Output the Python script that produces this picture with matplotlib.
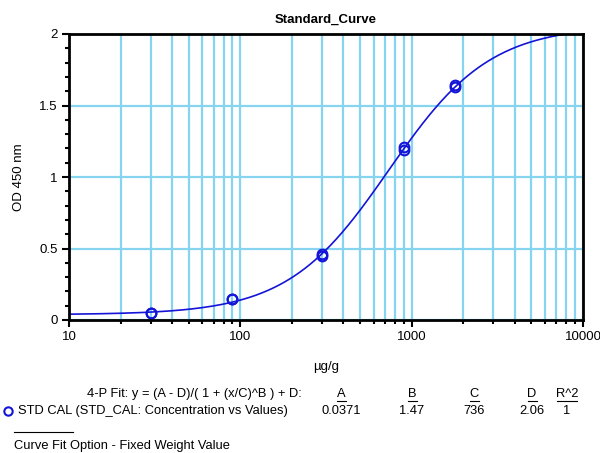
import numpy as np
import matplotlib
matplotlib.use("Agg")
import matplotlib.pyplot as plt
from matplotlib.lines import Line2D
from matplotlib.ticker import LogLocator, MultipleLocator, FixedLocator

plt.rcParams['font.family'] = ['Liberation Sans', 'DejaVu Sans']

# Data
conc = [30, 30, 90, 90, 300, 300, 900, 900, 1800, 1800]
od = [0.050, 0.052, 0.148, 0.150, 0.450, 0.462, 1.190, 1.210, 1.630, 1.640]
# 4-P fit parameters shown in the legend
fit_A, fit_B, fit_C, fit_D, fit_R2 = 0.0371, 1.47, 736, 2.06, 1
param_labels = ['A', 'B', 'C', 'D', 'R^2']
param_values = ['0.0371', '1.47', '736', '2.06', '1']

W, H = 600, 453
fig = plt.figure(figsize=(6, 4.53), dpi=100)
L, R, T, B = 69, 583, 34, 320
ax = fig.add_axes([L / W, 1 - B / H, (R - L) / W, (B - T) / H])

ax.set_xscale('log')
ax.set_xlim(10, 10000)
ax.set_ylim(0, 2)

grid_c = '#86d4f0'
ax.xaxis.set_major_locator(FixedLocator([10, 100, 1000, 10000]))
ax.xaxis.set_minor_locator(LogLocator(base=10, subs=np.arange(2, 10)))
ax.xaxis.set_minor_formatter(matplotlib.ticker.NullFormatter())
ax.xaxis.set_major_formatter(matplotlib.ticker.FuncFormatter(lambda v, p: f"{int(v)}"))
ax.yaxis.set_major_locator(FixedLocator([0, 0.5, 1, 1.5, 2]))
ax.yaxis.set_major_formatter(matplotlib.ticker.FuncFormatter(lambda v, p: f"{v:g}"))
ax.yaxis.set_minor_locator(MultipleLocator(0.1))

ax.grid(True, which='both', axis='x', color=grid_c, lw=1.6)
ax.grid(True, which='major', axis='y', color=grid_c, lw=1.6)
ax.set_axisbelow(True)

for s in ax.spines.values():
    s.set_linewidth(2)
    s.set_color('black')
    s.set_zorder(5)

ax.tick_params(which='major', direction='out', length=5, width=1.5, labelsize=9.5, pad=3, color='black')
ax.tick_params(which='minor', direction='out', length=3, width=1.5, color='black')

# Fitted curve
xs = np.logspace(1, 4, 600)
ys = (fit_A - fit_D) / (1 + (xs / fit_C) ** fit_B) + fit_D
ax.plot(xs, ys, color='#1414d8', lw=1.2, zorder=3, clip_on=True)

ax.plot(conc, od, linestyle='none', marker='o', ms=7, mfc='none', mec='#1414d8', mew=1.5, zorder=4)

ax.set_title('Standard_Curve', fontsize=9.5, fontweight='bold', pad=8)
ax.set_xlabel('µg/g', fontsize=9.5, labelpad=13)
ax.set_ylabel('OD 450 nm', fontsize=9.5, labelpad=10)

def fy(y):
    return 1 - y / H

def fx(x):
    return x / W

fs = 9.3
fig.text(fx(302), fy(394), '4-P Fit: y = (A - D)/( 1 + (x/C)^B ) + D:', ha='right', va='center', fontsize=fs)
col_x = [341, 412, 474, 532, 567]
for cx, lab, val in zip(col_x, param_labels, param_values):
    fig.text(fx(cx), fy(394), lab, ha='center', va='center', fontsize=fs)
    fig.text(fx(cx), fy(411), val, ha='center', va='center', fontsize=fs)
    half = 4.5 if lab != 'R^2' else 10
    fig.add_artist(Line2D([fx(cx - half), fx(cx + half)], [fy(400.5), fy(400.5)], color='black', lw=0.8))

fig.add_artist(Line2D([fx(8)], [fy(411)], marker='o', ms=6, mfc='none', mec='#1414d8', mew=1.5, linestyle='none'))
fig.text(fx(18), fy(411), 'STD CAL (STD_CAL: Concentration vs Values)', ha='left', va='center', fontsize=fs)
fig.add_artist(Line2D([fx(14), fx(73)], [fy(432), fy(432)], color='black', lw=0.8))
fig.text(fx(14), fy(446), 'Curve Fit Option - Fixed Weight Value', ha='left', va='center', fontsize=fs)

fig.savefig('out.png', dpi=100)
